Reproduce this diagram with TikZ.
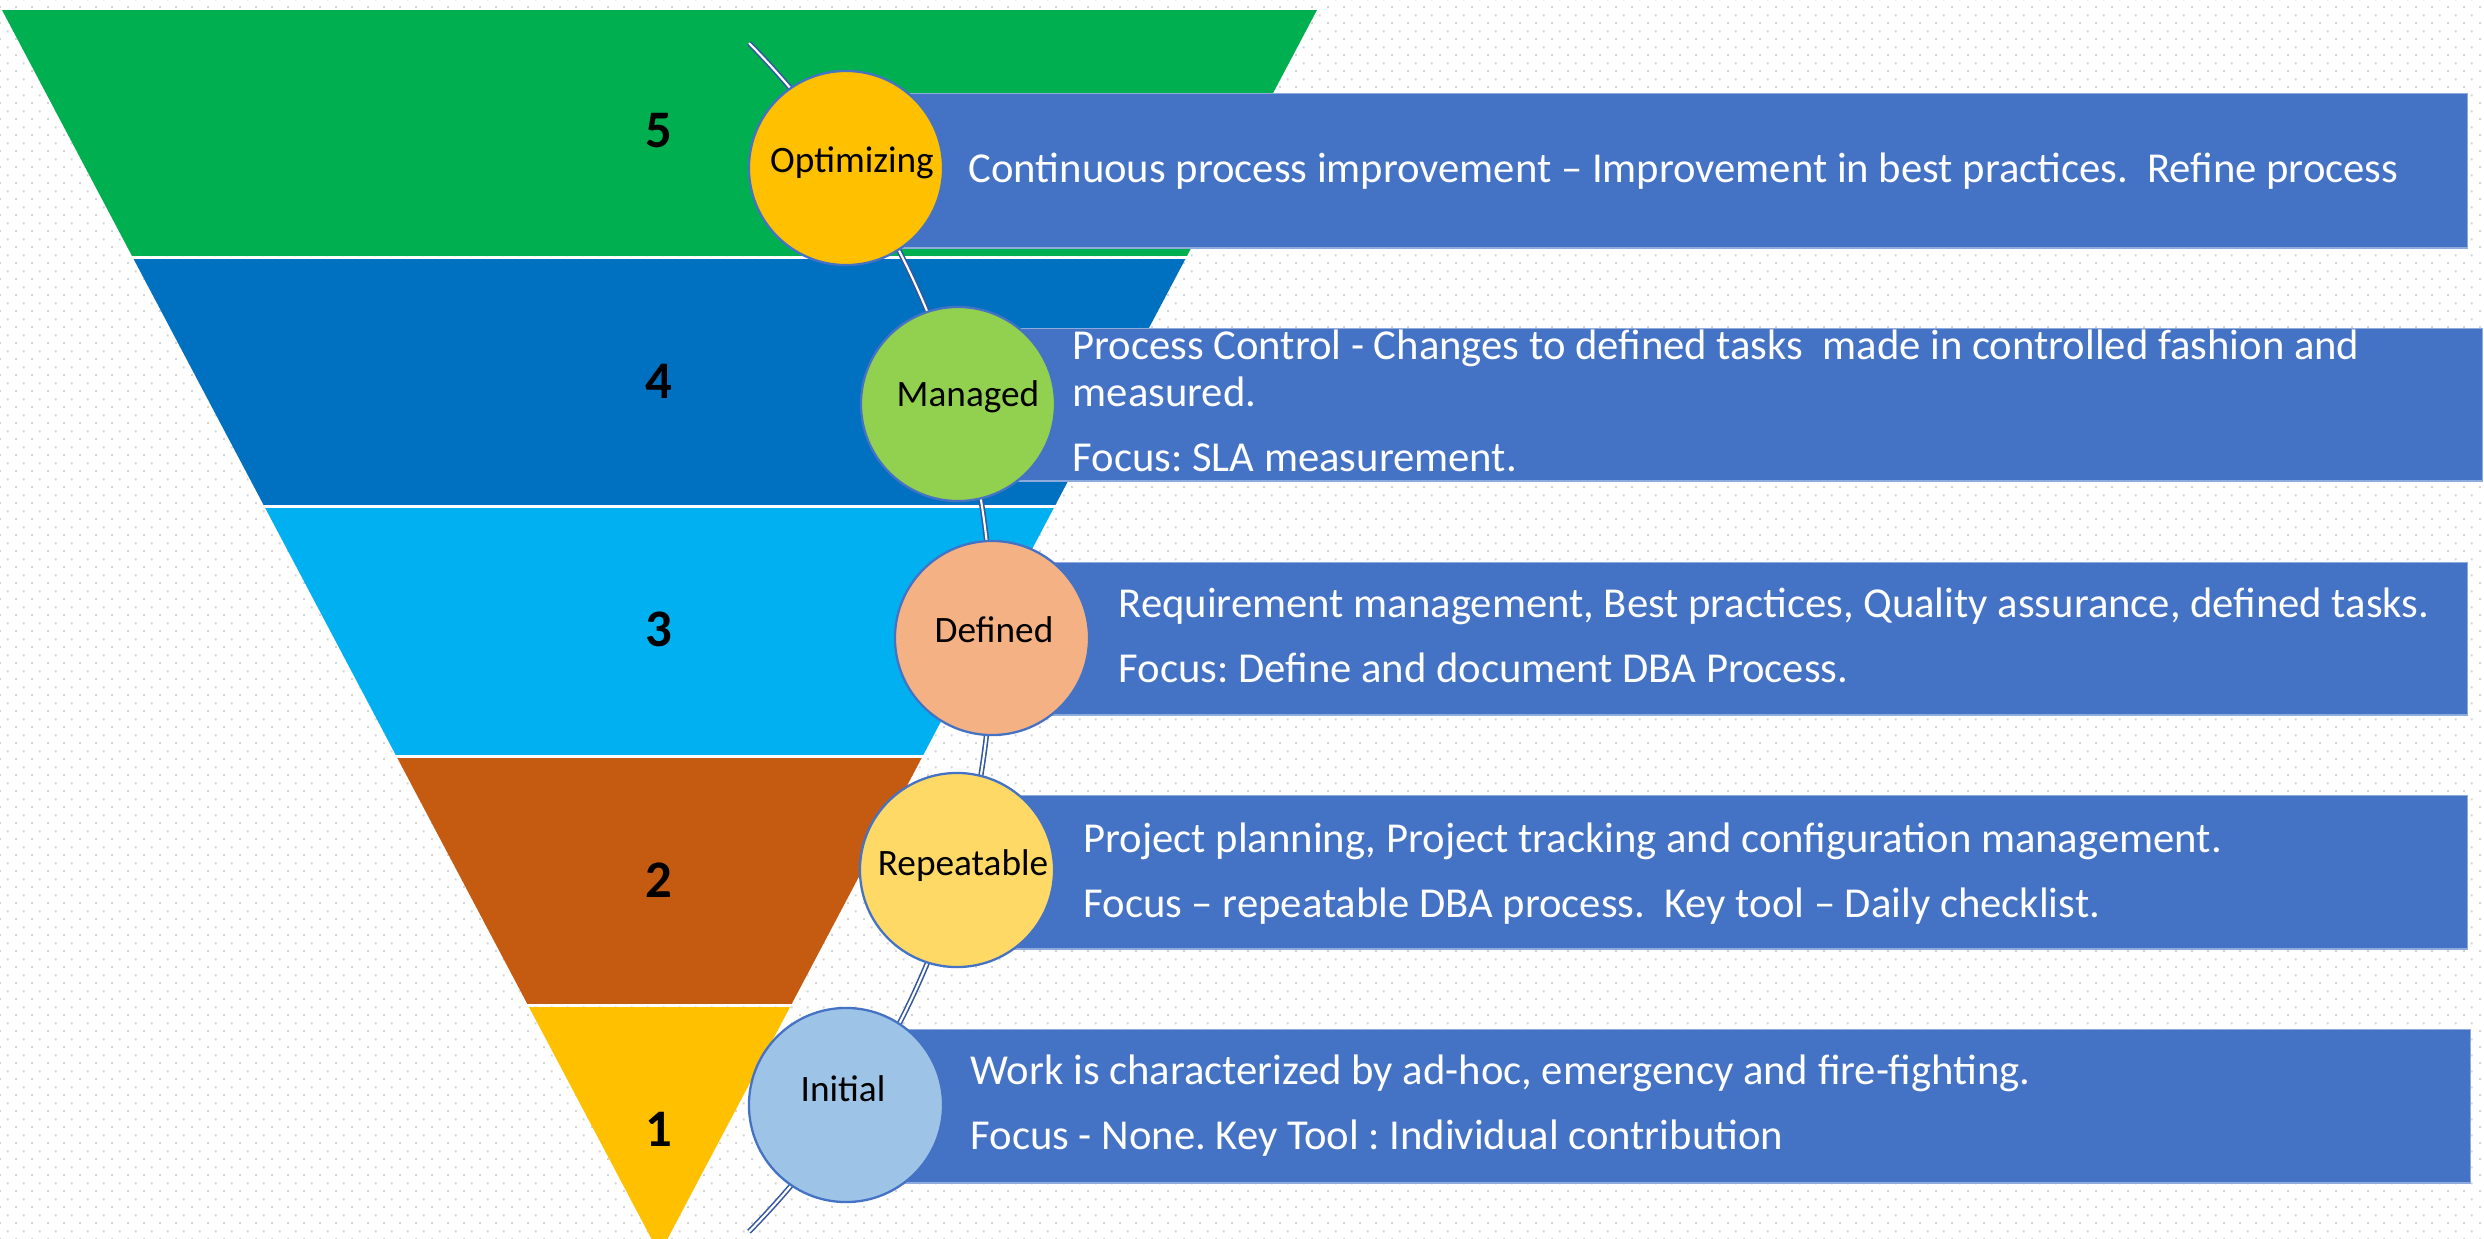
\documentclass[tikz,border=0pt]{standalone}
\usepackage{fontspec}
\setmainfont{Carlito}
\usetikzlibrary{patterns.meta}
\frenchspacing
\definecolor{cgreen}{HTML}{00B050}
\definecolor{cblue}{HTML}{0070C0}
\definecolor{ccyan}{HTML}{00B0F0}
\definecolor{cbrown}{HTML}{C55A11}
\definecolor{cgold}{HTML}{FFC000}
\definecolor{boxblue}{HTML}{4472C4}
\definecolor{boxedge}{HTML}{8FAADC}
\definecolor{ringblue}{HTML}{4472C4}
\definecolor{arcblue}{HTML}{34579E}
\definecolor{cOpt}{HTML}{FFC000}
\definecolor{cMan}{HTML}{92D050}
\definecolor{cDef}{HTML}{F4B183}
\definecolor{cRep}{HTML}{FFD966}
\definecolor{cIni}{HTML}{9DC3E6}
\definecolor{dotcol}{HTML}{D4D4D4}
\tikzdeclarepattern{
  name=dotgrid,
  type=colored,
  bounding box={(0pt,0pt) and (4.5524pt,4.5524pt)},
  tile size={(4.5524pt,4.5524pt)},
  code={
    \fill[dotcol] (0pt,0pt) rectangle (0.6pt,0.6pt);
    \fill[dotcol] (2.2762pt,2.2762pt) rectangle (2.8762pt,2.8762pt);
  }
}
\tikzset{
  bodytxt/.style={text=white, font=\fontsize{12.13pt}{14pt}\selectfont, anchor=base west, inner sep=0pt},
  lbl/.style={text=black, font=\fontsize{10.6pt}{12pt}\selectfont, anchor=base, inner sep=0pt},
  numtxt/.style={text=black, font=\fontsize{15pt}{18pt}\selectfont\bfseries, anchor=base, inner sep=0pt},
  stage/.style={circle, draw=ringblue, line width=0.65pt, minimum size=1.94cm, inner sep=0pt},
  infobox/.style={rectangle, fill=boxblue, draw=boxedge, line width=0.4pt, anchor=north west, inner sep=0pt},
  arcline/.style={draw=arcblue, line width=0.45pt, double=white, double distance=0.6pt},
}
\begin{document}
\begin{tikzpicture}[x=0.01cm,y=-0.01cm]
% background
\fill[white] (0,0) rectangle (2484,1239);
\fill[pattern=dotgrid] (0,0) rectangle (2484,1239);
\useasboundingbox (0,0) rectangle (2484,1239);
% funnel bands
\begin{scope}
\clip (2,10) -- (1317,10) -- (659.5,1254) -- cycle;
\fill[cgreen] (0,0) rectangle (1400,256);
\fill[cblue]  (0,259) rectangle (1400,505);
\fill[ccyan]  (0,508) rectangle (1400,754.5);
\fill[cbrown] (0,757.5) rectangle (1400,1004);
\fill[cgold]  (0,1007) rectangle (1400,1260);
\end{scope}
% level numbers
\node[numtxt] (n5) at (659,147) {5};
\node[numtxt] (n4) at (659,398) {4};
\node[numtxt] (n3) at (659,646) {3};
\node[numtxt] (n2) at (659,897) {2};
\node[numtxt] (n1) at (659,1146) {1};
% info boxes
\node[infobox, minimum width=15.86cm, minimum height=1.54cm] (b5) at (880,93) {};
\node[infobox, minimum width=14.91cm, minimum height=1.52cm] (b4) at (990,328) {};
\node[infobox, minimum width=14.46cm, minimum height=1.52cm] (b3) at (1020,562) {};
\node[infobox, minimum width=14.76cm, minimum height=1.53cm] (b2) at (990,795) {};
\node[infobox, minimum width=15.89cm, minimum height=1.53cm] (b1) at (880,1029) {};
% texts
\node[bodytxt] (t5a) at (968,182) {Continuous process improvement – Improvement in best practices.\ \ Refine process};
\node[bodytxt] (t4a) at (1072,359) {Process Control - Changes to defined tasks\ \ made in controlled fashion and};
\node[bodytxt] (t4b) at (1072,406) {measured.};
\node[bodytxt] (t4c) at (1072,471) {Focus: SLA measurement.};
\node[bodytxt] (t3a) at (1118,617) {Requirement management, Best practices, Quality assurance, defined tasks.};
\node[bodytxt] (t3b) at (1118,682) {Focus: Define and document DBA Process.};
\node[bodytxt] (t2a) at (1083,852) {Project planning, Project tracking and configuration management.};
\node[bodytxt] (t2b) at (1083,917) {Focus – repeatable DBA process.\ \ Key tool – Daily checklist.};
\node[bodytxt] (t1a) at (970,1084) {Work is characterized by ad-hoc, emergency and fire-fighting.};
\node[bodytxt] (t1b) at (970,1149) {Focus - None. Key Tool : Individual contribution};
% arc
\coordinate (arctop) at (749,43);
\draw[arcline] (arctop) arc[start angle=44.5, end angle=-44.5, radius=8.475cm] coordinate (arcbot);
% circles
\node[stage, fill=cOpt] (c5) at (846,168) {};
\node[stage, fill=cMan] (c4) at (958,404) {};
\node[stage, fill=cDef] (c3) at (992,638) {};
\node[stage, fill=cRep] (c2) at (957,870) {};
\node[stage, fill=cIni] (c1) at (846,1105) {};
\node[lbl] (l5) at (852,172) {Optimizing};
\node[lbl] (l4) at (968,406) {Managed};
\node[lbl] (l3) at (994,642) {Defined};
\node[lbl] (l2) at (963,875) {Repeatable};
\node[lbl] (l1) at (843,1101) {Initial};
\end{tikzpicture}
\end{document}
